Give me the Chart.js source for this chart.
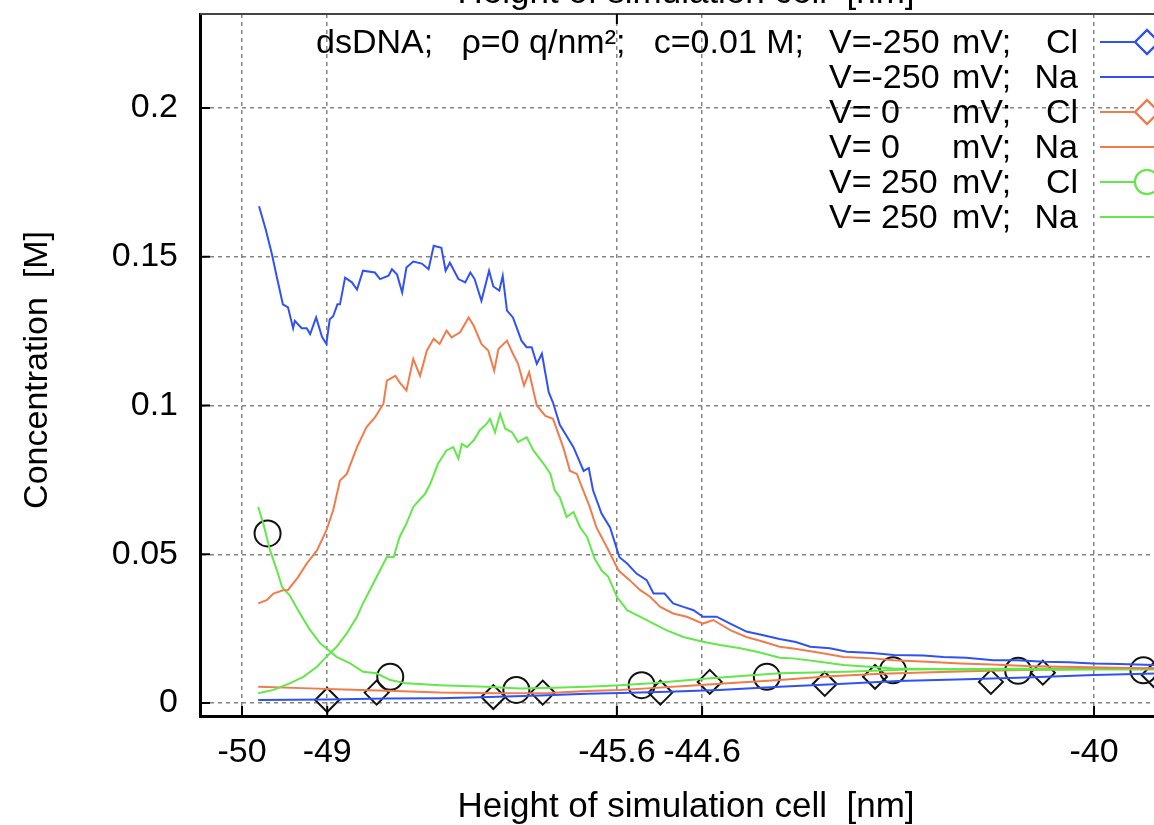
<!DOCTYPE html>
<html>
<head>
<meta charset="utf-8">
<script src="https://cdn.jsdelivr.net/npm/chart.js@4"></script>
<style>
  html, body { margin: 0; padding: 0; background: #fff; overflow: hidden; }
  body { width: 1154px; height: 825px; position: relative; }
  #plot { position: absolute; left: 0; top: -30px; }
</style>
</head>
<body>
<canvas id="plot" width="1200" height="870"></canvas>
<script>
Chart.defaults.font.family = "'Liberation Sans', Arial, sans-serif";
Chart.defaults.font.size = 34;
Chart.defaults.color = "#000";

// axis ticks
const xTickValues = [-50, -49, -45.6, -44.6, -40];
const xTickLabels = ["-50", "-49", "-45.6", "-44.6", "-40"];
const x2TickValues = [-45.6];
const yTickValues = [0, 0.05, 0.1, 0.15, 0.2];
const yTickLabels = ["0", "0.05", "0.1", "0.15", "0.2"];

// V=-250 mV, Na
const naNeg250X = [-49.8, -49.72, -49.65, -49.59, -49.52, -49.46, -49.4, -49.38, -49.3, -49.24, -49.2, -49.13, -49.06, -49.01, -48.97, -48.93, -48.88, -48.85, -48.79, -48.71, -48.65, -48.58, -48.44, -48.38, -48.28, -48.24, -48.18, -48.12, -48.07, -47.99, -47.89, -47.81, -47.75, -47.66, -47.61, -47.56, -47.46, -47.38, -47.32, -47.27, -47.19, -47.1, -47.05, -46.98, -46.94, -46.89, -46.82, -46.72, -46.66, -46.6, -46.54, -46.48, -46.4, -46.35, -46.27, -46.11, -45.99, -45.93, -45.88, -45.78, -45.68, -45.57, -45.48, -45.37, -45.25, -45.17, -45.04, -44.94, -44.82, -44.7, -44.59, -44.43, -44.27, -44.08, -43.88, -43.69, -43.5, -43.33, -43.1, -42.9, -42.6, -42.35, -42.0, -41.77, -41.5, -41.18, -40.9, -40.59, -40.3, -40.01, -39.7, -39.3, -39.1];
const naNeg250Y = [0.167, 0.159, 0.151, 0.143, 0.134, 0.133, 0.126, 0.1285, 0.126, 0.126, 0.124, 0.1296, 0.123, 0.1207, 0.129, 0.13, 0.134, 0.134, 0.143, 0.1414, 0.139, 0.1453, 0.1447, 0.1425, 0.1436, 0.1458, 0.144, 0.138, 0.1464, 0.1484, 0.1477, 0.1458, 0.1537, 0.153, 0.1453, 0.148, 0.1425, 0.1414, 0.1447, 0.1425, 0.1352, 0.1453, 0.14, 0.1386, 0.1436, 0.1319, 0.1296, 0.1218, 0.1196, 0.1196, 0.114, 0.1174, 0.1045, 0.101, 0.0935, 0.086, 0.078, 0.079, 0.0715, 0.0637, 0.059, 0.049, 0.0469, 0.0435, 0.0413, 0.0368, 0.0368, 0.0335, 0.0323, 0.0312, 0.029, 0.029, 0.0267, 0.024, 0.0228, 0.0215, 0.0205, 0.0189, 0.0184, 0.0172, 0.0168, 0.0161, 0.016, 0.0155, 0.0152, 0.0144, 0.0144, 0.0139, 0.0137, 0.0133, 0.0131, 0.0128, 0.0127];

// V=0 mV, Na
const na0X = [-49.81, -49.71, -49.63, -49.52, -49.46, -49.34, -49.24, -49.12, -49.01, -48.93, -48.85, -48.77, -48.65, -48.54, -48.44, -48.34, -48.3, -48.2, -48.15, -48.07, -47.99, -47.91, -47.83, -47.75, -47.68, -47.6, -47.54, -47.44, -47.34, -47.28, -47.19, -47.11, -47.04, -46.99, -46.89, -46.82, -46.76, -46.69, -46.63, -46.54, -46.44, -46.35, -46.23, -46.15, -46.07, -46.01, -45.92, -45.84, -45.72, -45.58, -45.45, -45.33, -45.21, -45.09, -44.94, -44.78, -44.59, -44.47, -44.27, -44.08, -43.88, -43.69, -43.53, -43.2, -42.94, -42.6, -42.35, -41.9, -41.57, -41.2, -40.79, -40.4, -40.01, -39.6, -39.3, -39.1];
const na0Y = [0.0335, 0.0346, 0.0368, 0.0379, 0.038, 0.0424, 0.0469, 0.0513, 0.058, 0.0648, 0.0748, 0.077, 0.086, 0.0927, 0.096, 0.1006, 0.1084, 0.11, 0.1078, 0.105, 0.1157, 0.11, 0.1185, 0.1224, 0.1207, 0.1252, 0.1229, 0.1246, 0.1296, 0.1268, 0.1207, 0.1185, 0.1117, 0.119, 0.1218, 0.1174, 0.114, 0.1067, 0.1112, 0.1, 0.0965, 0.0955, 0.086, 0.078, 0.077, 0.0726, 0.066, 0.059, 0.0525, 0.0445, 0.0413, 0.038, 0.0357, 0.0323, 0.0301, 0.029, 0.0267, 0.0279, 0.0245, 0.0222, 0.0206, 0.0189, 0.0183, 0.0168, 0.0155, 0.015, 0.0144, 0.0138, 0.0133, 0.0129, 0.0124, 0.0122, 0.012, 0.0118, 0.0116, 0.0115];

// V=250 mV, Na
const na250X = [-49.81, -49.63, -49.44, -49.28, -49.12, -49.01, -48.89, -48.77, -48.65, -48.58, -48.5, -48.38, -48.3, -48.22, -48.15, -48.07, -47.99, -47.91, -47.85, -47.79, -47.7, -47.6, -47.52, -47.46, -47.42, -47.36, -47.28, -47.21, -47.13, -47.09, -47.03, -46.97, -46.91, -46.83, -46.76, -46.66, -46.58, -46.46, -46.38, -46.33, -46.27, -46.19, -46.11, -46.03, -45.95, -45.86, -45.78, -45.7, -45.6, -45.48, -45.33, -45.17, -45.02, -44.82, -44.59, -44.39, -44.15, -43.92, -43.69, -43.53, -43.2, -42.94, -42.6, -42.35, -41.9, -41.57, -40.79, -40.01, -39.1];
const na250Y = [0.0033, 0.0044, 0.0066, 0.0088, 0.0122, 0.0155, 0.0189, 0.0234, 0.029, 0.0335, 0.0379, 0.0446, 0.0491, 0.0491, 0.0558, 0.0603, 0.0659, 0.0685, 0.0704, 0.0737, 0.0804, 0.0849, 0.086, 0.0821, 0.0871, 0.086, 0.0883, 0.0916, 0.0938, 0.0955, 0.091, 0.0972, 0.0922, 0.091, 0.0877, 0.0894, 0.0849, 0.0804, 0.077, 0.0715, 0.0692, 0.0625, 0.0642, 0.059, 0.0558, 0.0485, 0.0446, 0.0424, 0.0357, 0.0312, 0.029, 0.0267, 0.0245, 0.0222, 0.0206, 0.0195, 0.0184, 0.017, 0.0152, 0.015, 0.0138, 0.0128, 0.0121, 0.0116, 0.0114, 0.0113, 0.0113, 0.0113, 0.0113];

// Cl curves
const clNeg250X = [-49.81, -49.0, -48.3, -47.68, -47.1, -46.5, -45.95, -45.56, -45.0, -44.4, -43.69, -43.0, -42.3, -41.5, -40.8, -40.0, -39.1];
const clNeg250Y = [0.001, 0.0012, 0.0015, 0.0016, 0.002, 0.0025, 0.0031, 0.0034, 0.0038, 0.0044, 0.0055, 0.0064, 0.0074, 0.008, 0.0086, 0.0094, 0.01];
const cl0X = [-49.81, -49.3, -48.8, -48.2, -47.68, -47.0, -46.4, -45.95, -45.56, -45.2, -44.75, -44.3, -43.69, -43.1, -42.5, -41.8, -41.0, -40.0, -39.1];
const cl0Y = [0.0055, 0.005, 0.0045, 0.004, 0.0035, 0.0033, 0.0034, 0.004, 0.0044, 0.005, 0.0058, 0.0066, 0.0077, 0.009, 0.0098, 0.0104, 0.011, 0.0114, 0.0116];
const cl250X = [-49.81, -49.75, -49.67, -49.59, -49.53, -49.44, -49.32, -49.2, -49.08, -49.01, -48.89, -48.73, -48.58, -48.42, -48.26, -48.07, -47.68, -47.13, -46.74, -46.35, -45.95, -45.56, -45.2, -44.5, -43.69, -42.9, -42.2, -41.0, -39.1];
const cl250Y = [0.0659, 0.0603, 0.0513, 0.0446, 0.039, 0.0362, 0.0301, 0.0245, 0.02, 0.0184, 0.0155, 0.0133, 0.0105, 0.01, 0.0077, 0.0066, 0.006, 0.0055, 0.0049, 0.0051, 0.0055, 0.006, 0.0066, 0.0083, 0.01, 0.0105, 0.0113, 0.0115, 0.0117];

// black point markers on the Cl curves
const markNeg250X = [-49.0, -47.05, -45.09, -43.16, -41.21, -39.3];
const markNeg250Y = [0.001, 0.002, 0.0035, 0.0064, 0.0071, 0.0094];
const mark0X = [-48.42, -46.47, -44.51, -42.57, -40.6];
const mark0Y = [0.0035, 0.0035, 0.0071, 0.0088, 0.0102];
const mark250X = [-49.7, -48.26, -46.78, -45.31, -43.84, -42.36, -40.89, -39.42];
const mark250Y = [0.057, 0.0088, 0.0044, 0.006, 0.0088, 0.011, 0.0108, 0.011];

// legend
const legendVolt = ["-250", "-250", "0", "0", "250", "250"];
const legendIon = ["Cl", "Na", "Cl", "Na", "Cl", "Na"];
const legendHeader = "dsDNA;   \u03C1=0 q/nm\u00B2;   c=0.01 M;";

const blueC = "rgb(48,82,245)";
const orangeC = "rgb(240,124,76)";
const greenC = "rgb(98,232,74)";
const legendColors = [blueC, blueC, orangeC, orangeC, greenC, greenC];
const legendMarks = ["rectRot", null, "rectRot", null, "circle", null];

function pts(xs, ys) {
  return xs.map((x, i) => ({ x: x, y: ys[i] }));
}

function lineSet(xs, ys, color) {
  return {
    data: pts(xs, ys),
    borderColor: color,
    borderWidth: 2,
    pointRadius: 0,
    fill: false,
    tension: 0,
  };
}

function markSet(xs, ys, style, r) {
  return {
    data: pts(xs, ys),
    showLine: false,
    pointStyle: style,
    pointRadius: r,
    pointBorderColor: "#111",
    pointBackgroundColor: "rgba(0,0,0,0)",
    pointBorderWidth: 2,
  };
}

const framePlugin = {
  id: "framePlugin",
  afterDraw(chart) {
    const ctx = chart.ctx;
    const area = chart.chartArea;
    const xs = chart.scales.x;
    const ys = chart.scales.y;
    ctx.save();

    // top border and inward ticks
    ctx.strokeStyle = "#444";
    ctx.lineWidth = 2;
    ctx.beginPath();
    ctx.moveTo(area.left, area.top);
    ctx.lineTo(area.right, area.top);
    ctx.stroke();

    ctx.strokeStyle = "#000";
    ctx.lineWidth = 2;
    for (let v of yTickValues) {
      const y = ys.getPixelForValue(v);
      ctx.beginPath();
      ctx.moveTo(area.left, y);
      ctx.lineTo(area.left + 10, y);
      ctx.stroke();
    }
    for (let v of xTickValues) {
      const x = xs.getPixelForValue(v);
      ctx.beginPath();
      ctx.moveTo(x, area.bottom);
      ctx.lineTo(x, area.bottom - 10);
      ctx.stroke();
    }
    for (let v of x2TickValues) {
      const x = xs.getPixelForValue(v);
      ctx.beginPath();
      ctx.moveTo(x, area.top);
      ctx.lineTo(x, area.top + 10);
      ctx.stroke();
    }

    // axis titles
    ctx.fillStyle = "#000";
    ctx.font = "35px 'Liberation Sans', Arial, sans-serif";
    ctx.textAlign = "center";
    ctx.textBaseline = "alphabetic";
    ctx.fillText("Height of simulation cell  [nm]", 686, area.bottom + 101);
    ctx.fillText("Height of simulation cell  [nm]", 686, area.top - 11);
    ctx.font = "34px 'Liberation Sans', Arial, sans-serif";
    ctx.save();
    ctx.translate(47, 400);
    ctx.rotate(-Math.PI / 2);
    ctx.fillText("Concentration  [M]", 0, 0);
    ctx.restore();

    // key
    ctx.textBaseline = "middle";
    for (let i = 0; i < legendIon.length; i++) {
      const y = area.top + 28 + 35 * i;
      const ty = y + 2;
      ctx.fillStyle = "#000";
      ctx.textAlign = "left";
      const volt = legendVolt[i].startsWith("-") ? "V=" + legendVolt[i] : "V= " + legendVolt[i];
      ctx.fillText(volt, area.right - 337, ty);
      ctx.fillText("mV;", area.right - 214, ty);
      ctx.textAlign = "right";
      ctx.fillText(legendIon[i], area.right - 88, ty);
      if (i === 0) ctx.fillText(legendHeader, area.right - 362, ty);

      ctx.strokeStyle = legendColors[i];
      ctx.lineWidth = 2;
      ctx.beginPath();
      ctx.moveTo(area.right - 66, y);
      ctx.lineTo(area.right + 28, y);
      ctx.stroke();
      if (legendMarks[i]) {
        ctx.fillStyle = "#fff";
        Chart.helpers.drawPoint(ctx, { pointStyle: legendMarks[i], radius: 12, borderWidth: 2 }, area.right - 19, y);
        ctx.stroke();
      }
    }
    ctx.restore();
  },
};

new Chart(document.getElementById("plot"), {
  type: "line",
  data: {
    datasets: [
      lineSet(naNeg250X, naNeg250Y, blueC),
      lineSet(na0X, na0Y, orangeC),
      lineSet(na250X, na250Y, greenC),
      lineSet(clNeg250X, clNeg250Y, blueC),
      lineSet(cl0X, cl0Y, orangeC),
      lineSet(cl250X, cl250Y, greenC),
      markSet(markNeg250X, markNeg250Y, "rectRot", 12),
      markSet(mark0X, mark0Y, "rectRot", 12),
      markSet(mark250X, mark250Y, "circle", 13),
    ],
  },
  options: {
    responsive: false,
    animation: false,
    devicePixelRatio: 1,
    layout: { padding: { left: 0, top: 44, right: 34, bottom: 0 } },
    plugins: { legend: { display: false }, tooltip: { enabled: false } },
    scales: {
      x: {
        type: "linear",
        min: -50.493,
        max: -39.155,
        afterFit(scale) {
          scale.height = 124;
        },
        afterBuildTicks(scale) {
          scale.ticks = xTickValues.map((v) => ({ value: v }));
        },
        ticks: {
          autoSkip: false,
          maxRotation: 0,
          padding: 16,
          callback: (v) => xTickLabels[xTickValues.indexOf(v)],
        },
        grid: { color: "rgba(110,110,110,0.85)", lineWidth: 1.5, drawTicks: false },
        border: { color: "#000", width: 3, dash: [4, 4] },
      },
      y: {
        min: -0.00437,
        max: 0.2316,
        afterFit(scale) {
          scale.width = 200;
        },
        afterBuildTicks(scale) {
          scale.ticks = yTickValues.map((v) => ({ value: v }));
        },
        ticks: {
          padding: 22,
          callback: (v) => yTickLabels[yTickValues.indexOf(v)],
        },
        grid: { color: "rgba(110,110,110,0.85)", lineWidth: 1.5, drawTicks: false },
        border: { color: "#000", width: 3, dash: [4, 4] },
      },
    },
  },
  plugins: [framePlugin],
});
</script>
</body>
</html>
